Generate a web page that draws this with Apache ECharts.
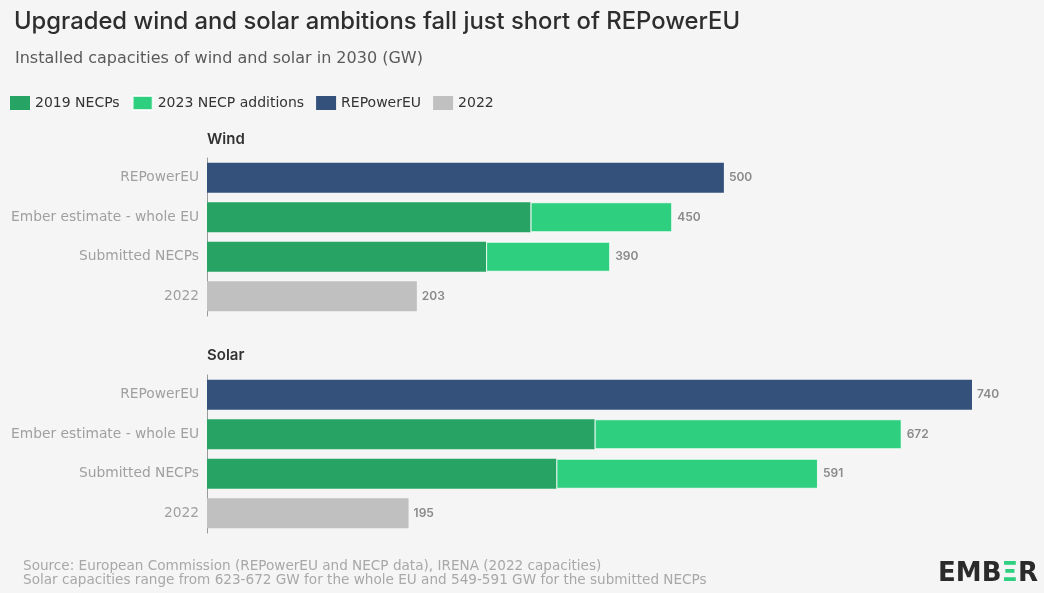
<!DOCTYPE html>
<html>
<head>
<meta charset="utf-8">
<script src="https://cdn.jsdelivr.net/npm/echarts@6/dist/echarts.min.js"></script>
<style>
html,body{margin:0;padding:0;background:#f5f5f5;}
#c{width:1044px;height:593px;}
</style>
</head>
<body>
<div id="c"></div>
<script>
const categories = ['REPowerEU', 'Ember estimate - whole EU', 'Submitted NECPs', '2022'];
const seriesNames = ['2019 NECPs', '2023 NECP additions', 'REPowerEU', '2022'];
// Wind (GW)
const wind2019 = ['-', 313, 270, '-'];
const wind2023Add = ['-', 137, 120, '-'];
const windRepower = [500, '-', '-', '-'];
const wind2022 = ['-', '-', '-', 203];
const windTotals = [500, 450, 390, 203];
// Solar (GW)
const solar2019 = ['-', 375, 338, '-'];
const solar2023Add = ['-', 297, 253, '-'];
const solarRepower = [740, '-', '-', '-'];
const solar2022 = ['-', '-', '-', 195];
const solarTotals = [740, 672, 591, 195];

const colors = ['#27a363', '#2ecf7f', '#33517b', '#c0c0c0'];
const FONT = 'Inter, "Noto Sans", sans-serif';
const WFONT = '"DejaVu Sans", sans-serif';

function mkSeries(idx, vals, totals) {
  const list = [];
  vals.forEach((d, i) => {
    const s = {
      name: seriesNames[i], type: 'bar', stack: 'p' + idx,
      xAxisIndex: idx, yAxisIndex: idx, data: d, barWidth: 30,
      itemStyle: { color: colors[i], borderColor: 'rgba(255,255,255,0.8)', borderWidth: i === 1 ? 1 : 0 },
      emphasis: { disabled: true }
    };
    if (i > 0) {
      s.label = {
        show: true, position: 'right', distance: 5, color: '#8a8a8a',
        fontSize: 12, fontWeight: 600, fontFamily: FONT,
        formatter: p => String(totals[p.dataIndex])
      };
    }
    list.push(s);
  });
  return list;
}

const grids = [
  { left: 207, right: 10, top: 158, height: 158 },
  { left: 207, right: 10, top: 375, height: 158 }
];
const xAxes = grids.map((g, i) => ({ type: 'value', gridIndex: i, min: 0, max: 800, show: false }));
const yAxes = grids.map((g, i) => ({
  type: 'category', gridIndex: i, data: categories, inverse: true,
  axisLine: { show: true, lineStyle: { color: '#9a9a9a', width: 1 } },
  axisTick: { show: false },
  axisLabel: { color: '#a0a0a0', fontSize: 13.8, fontFamily: WFONT, margin: 8 },
  splitLine: { show: false }
}));

const chart = echarts.init(document.getElementById('c'));
chart.setOption({
  backgroundColor: '#f5f5f5',
  animation: false,
  title: [
    { text: 'Upgraded wind and solar ambitions fall just short of REPowerEU', left: 9, top: 5,
      textStyle: { fontSize: 23.8, fontWeight: 500, color: '#2e2e2e', fontFamily: FONT } },
    { text: 'Installed capacities of wind and solar in 2030 (GW)', left: 10, top: 46,
      textStyle: { fontSize: 16, fontWeight: 400, color: '#5a5a5a', fontFamily: WFONT } }
  ],
  legend: {
    data: seriesNames, left: 10, top: 95, padding: 0, icon: 'rect', itemWidth: 20, itemHeight: 14, itemGap: 12,
    textStyle: { fontSize: 14, color: '#333', fontFamily: WFONT }
  },
  grid: grids,
  xAxis: xAxes,
  yAxis: yAxes,
  series: [
    ...mkSeries(0, [wind2019, wind2023Add, windRepower, wind2022], windTotals),
    ...mkSeries(1, [solar2019, solar2023Add, solarRepower, solar2022], solarTotals)
  ],
  graphic: [
    { type: 'text', left: 207, top: 132, style: { text: 'Wind', fontSize: 15, fontWeight: 600, fill: '#333', fontFamily: FONT } },
    { type: 'text', left: 207, top: 348, style: { text: 'Solar', fontSize: 15, fontWeight: 600, fill: '#333', fontFamily: FONT } },
    { type: 'text', left: 23, top: 559, style: { text: 'Source: European Commission (REPowerEU and NECP data), IRENA (2022 capacities)\nSolar capacities range from 623-672 GW for the whole EU and 549-591 GW for the submitted NECPs', fontSize: 13.6, lineHeight: 14, fill: '#a8a8a8', fontFamily: WFONT } },
    { type: 'text', right: 6, top: 561, style: {
        text: '{a|EMB}{b|Ξ}{a|R}',
        rich: {
          a: { fontSize: 26, fontWeight: 800, fill: '#2b2b2b', fontFamily: WFONT },
          b: { fontSize: 26, fontWeight: 800, fill: '#2ecf7f', fontFamily: WFONT }
        } } }
  ]
});
</script>
</body>
</html>
